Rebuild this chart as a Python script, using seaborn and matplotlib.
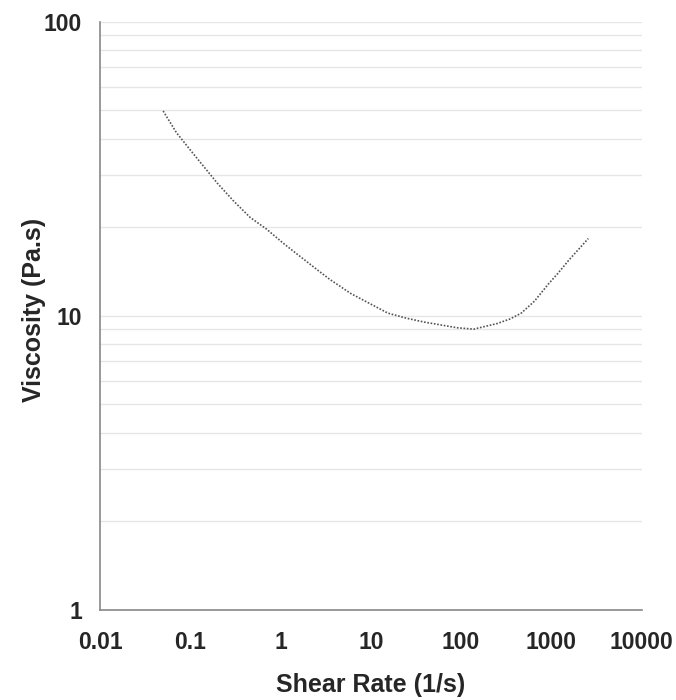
import numpy as np
import pandas as pd
import matplotlib
matplotlib.use("Agg")
import matplotlib.pyplot as plt
import seaborn as sns
from matplotlib.ticker import LogLocator, FixedLocator

# values
shear_rate = [0.05, 0.07, 0.1, 0.2, 0.3, 0.46, 0.7, 1.08, 2.57, 3.5, 6.0, 15.5, 25, 40, 60, 90,
              138, 250, 350, 464, 650, 926, 1200, 1550, 2000, 2570]
viscosity = [49.7, 42.0, 36.6, 28.2, 24.6, 21.6, 19.7, 17.6, 14.3, 13.3, 11.9, 10.2, 9.8, 9.5, 9.3, 9.1,
             9.0, 9.4, 9.75, 10.2, 11.2, 12.8, 14.0, 15.4, 16.8, 18.3]
x_ticks = [0.01, 0.1, 1, 10, 100, 1000, 10000]
x_labels = ["0.01", "0.1", "1", "10", "100", "1000", "10000"]
y_ticks = [1, 10, 100]
y_labels = ["1", "10", "100"]

df = pd.DataFrame({"shear": shear_rate, "visc": viscosity})

sns.set_style("white")
plt.rcParams["font.family"] = ["Liberation Sans", "DejaVu Sans"]

fig = plt.figure(figsize=(6.76, 7.0), dpi=100)
ax = fig.add_axes([0.148, 0.129, 0.801, 0.84])

sns.lineplot(data=df, x="shear", y="visc", ax=ax, color="#555555",
             linestyle=(0, (1, 1)), linewidth=1.2)

ax.set_xscale("log")
ax.set_yscale("log")
ax.set_xlim(0.01, 10000)
ax.set_ylim(1, 100)

ax.xaxis.set_major_locator(FixedLocator(x_ticks))
ax.set_xticklabels(x_labels)
ax.yaxis.set_major_locator(FixedLocator(y_ticks))
ax.set_yticklabels(y_labels)
ax.xaxis.set_minor_locator(FixedLocator([]))
ax.yaxis.set_minor_locator(LogLocator(base=10, subs=np.arange(2, 10)))

# horizontal gridlines only
ax.grid(False)
ax.yaxis.grid(True, which="both", color="#e6e6e6", linewidth=1.0)
ax.tick_params(axis="y", which="minor", length=0)
ax.tick_params(axis="both", which="major", direction="out", length=6,
               width=1, color="#888888", labelsize=16.5)
ax.tick_params(axis="x", which="major", pad=9)
ax.tick_params(axis="y", which="major", pad=7)
for lab in ax.get_xticklabels() + ax.get_yticklabels():
    lab.set_fontweight("bold")

for side in ["top", "right"]:
    ax.spines[side].set_visible(False)
for side in ["left", "bottom"]:
    ax.spines[side].set_color("#888888")
    ax.spines[side].set_linewidth(1.2)

ax.set_xlabel("Shear Rate (1/s)", fontsize=18, fontweight="bold", labelpad=14)
ax.set_ylabel("Viscosity (Pa.s)", fontsize=18, fontweight="bold")
ax.yaxis.set_label_coords(-0.1, 0.51)

fig.savefig("out.png", dpi=100)
plt.close()
